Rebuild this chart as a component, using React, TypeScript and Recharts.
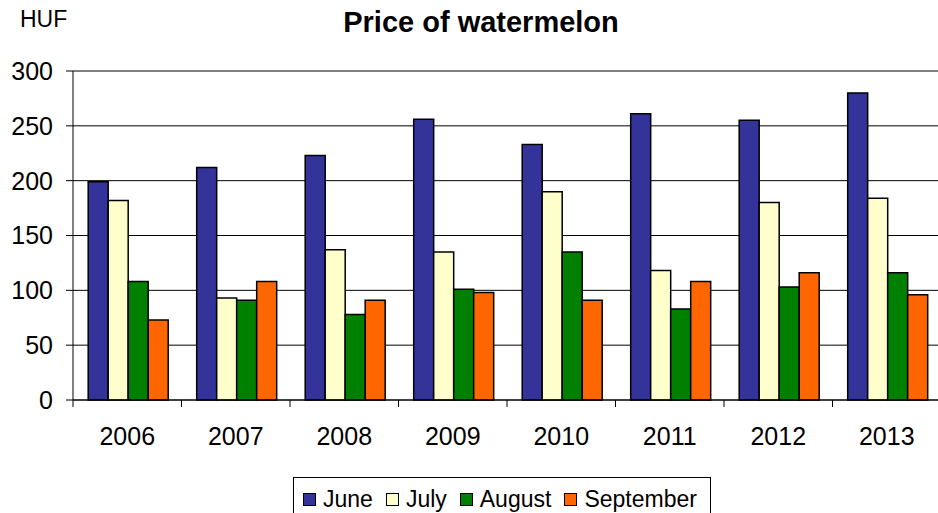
import React from 'react';
import { BarChart, Bar, XAxis, YAxis, CartesianGrid } from 'recharts';

const years = ['2006', '2007', '2008', '2009', '2010', '2011', '2012', '2013'];
const june = [199, 212, 223, 256, 233, 261, 255, 280];
const july = [182, 93, 137, 135, 190, 118, 180, 184];
const august = [108, 91, 78, 101, 135, 83, 103, 116];
const september = [73, 108, 91, 98, 91, 108, 116, 96];
const yTicks = [0, 50, 100, 150, 200, 250, 300];

const series = [
  { key: 'June', values: june, color: '#333399' },
  { key: 'July', values: july, color: '#FFFFCC' },
  { key: 'August', values: august, color: '#008000' },
  { key: 'September', values: september, color: '#FF6600' },
];

const data = years.map((year, i) => {
  const row: { [k: string]: string | number } = { year };
  series.forEach((s) => {
    row[s.key] = s.values[i];
  });
  return row;
});

const FONT = '"Liberation Sans", Arial, sans-serif';
const CHART_W = 950;
const AXIS_W = 73;
const RIGHT = 9;
const bandWidth = (CHART_W - AXIS_W - RIGHT) / years.length;

// year labels in the middle, tick marks on the borders between years
const YearTick = (props: any) => {
  const { x, y, payload, index } = props;
  const left = x - bandWidth / 2;
  return (
    <g>
      <line x1={left} y1={y} x2={left} y2={y + 7} stroke="#000" />
      {index === years.length - 1 && (
        <line x1={left + bandWidth} y1={y} x2={left + bandWidth} y2={y + 7} stroke="#000" />
      )}
      <text x={x} y={y + 45} textAnchor="middle" fontSize={25} fontFamily={FONT} fill="#000">
        {payload.value}
      </text>
    </g>
  );
};

const App: React.FC = () => {
  return (
    <div
      style={{
        position: 'absolute',
        left: 0,
        top: 0,
        width: 938,
        height: 513,
        overflow: 'hidden',
        background: '#fff',
        fontFamily: FONT,
      }}
    >
      <div style={{ position: 'absolute', left: 20, top: 6, fontSize: 23, lineHeight: '26px' }}>HUF</div>
      <div
        style={{
          position: 'absolute',
          left: 0,
          width: 962,
          top: 5,
          textAlign: 'center',
          fontSize: 29,
          fontWeight: 'bold',
          lineHeight: '34px',
        }}
      >
        Price of watermelon
      </div>

      <BarChart
        width={CHART_W}
        height={513}
        data={data}
        margin={{ top: 71, right: RIGHT, bottom: 73, left: 0 }}
        barCategoryGap="14%"
        barGap={0}
      >
        <CartesianGrid vertical={false} stroke="#000" />
        <XAxis
          dataKey="year"
          axisLine={{ stroke: '#000' }}
          tickLine={false}
          tickSize={0}
          tickMargin={0}
          height={40}
          interval={0}
          tick={<YearTick />}
        />
        <YAxis
          width={AXIS_W}
          domain={[0, 300]}
          ticks={yTicks}
          axisLine={{ stroke: '#000' }}
          tickLine={{ stroke: '#000' }}
          tickSize={7}
          tickMargin={13}
          tick={{ fontSize: 25, fill: '#000', fontFamily: FONT }}
        />
        {series.map((s) => (
          <Bar
            key={s.key}
            dataKey={s.key}
            fill={s.color}
            stroke="#000"
            strokeWidth={1.5}
            isAnimationActive={false}
          />
        ))}
      </BarChart>

      <div
        style={{
          position: 'absolute',
          left: 293,
          top: 477,
          width: 418,
          height: 50,
          border: '1px solid #000',
          padding: '8px 9px',
          boxSizing: 'border-box',
          display: 'flex',
          alignItems: 'flex-start',
          fontSize: 23,
          lineHeight: '26px',
        }}
      >
        {series.map((s) => (
          <div key={s.key} style={{ display: 'flex', alignItems: 'center', marginRight: 13 }}>
            <span
              style={{
                display: 'inline-block',
                width: 11,
                height: 11,
                border: '1px solid #000',
                background: s.color,
                marginRight: 7,
              }}
            />
            <span>{s.key}</span>
          </div>
        ))}
      </div>
    </div>
  );
};

export default App;
